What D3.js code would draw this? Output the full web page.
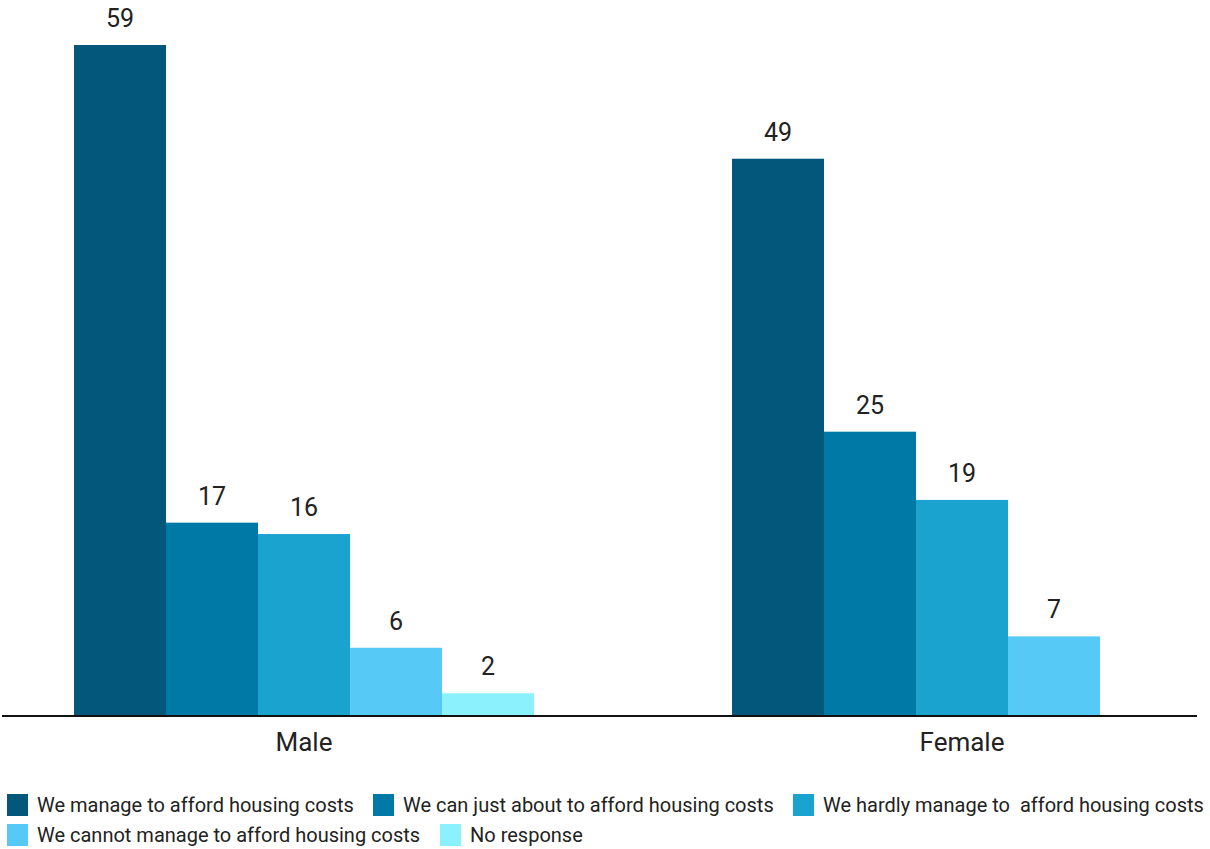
<!DOCTYPE html>
<html><head><meta charset="utf-8">
<script src="https://cdn.jsdelivr.net/npm/d3@7"></script>
<style>body{margin:0;background:#fff;}svg{display:block;font-family:Roboto,sans-serif;}</style>
</head><body>
<svg id="chart" width="1210" height="849"></svg>
<script>
const categories = ["Male", "Female"];
const seriesNames = [
  "We manage to afford housing costs",
  "We can just about to afford housing costs",
  "We hardly manage to  afford housing costs",
  "We cannot manage to afford housing costs",
  "No response"
];
const maleValues = [59, 17, 16, 6, 2];
const femaleValues = [49, 25, 19, 7, null];
const colors = ["#02577A", "#0079A7", "#1AA3CF", "#56C9F6", "#8BF2FD"];

const svg = d3.select("#chart");
const baseY = 716;
const x0 = d3.scaleBand().domain(categories).range([74, 1192]).paddingInner(198/658).paddingOuter(0);
const x1 = d3.scaleBand().domain(seriesNames).range([0, x0.bandwidth()]);
const y = d3.scaleLinear().domain([0, 59]).range([baseY, 45]);

const data = categories.map((c, i) => ({cat: c, vals: i === 0 ? maleValues : femaleValues}));

const g = svg.append("g");
data.forEach(d => {
  const gg = g.append("g").attr("transform", `translate(${x0(d.cat)},0)`);
  d.vals.forEach((v, j) => {
    if (v == null) return;
    gg.append("rect")
      .attr("x", x1(seriesNames[j])).attr("width", x1.bandwidth())
      .attr("y", y(v)).attr("height", baseY - y(v))
      .attr("fill", colors[j]);
    gg.append("text")
      .attr("x", x1(seriesNames[j]) + x1.bandwidth()/2)
      .attr("y", y(v) - 18)
      .attr("text-anchor", "middle")
      .attr("font-size", 25).attr("fill", "#222")
      .text(v);
  });
});

// x axis
const axis = d3.axisBottom(x0).tickSize(0).tickPadding(17);
const ax = svg.append("g").attr("transform", `translate(0,${baseY})`).call(axis);
ax.select(".domain").remove();
ax.selectAll("text").attr("font-size", 26).attr("fill", "#222").attr("font-family", "Roboto, sans-serif");
svg.append("line").attr("x1", 2).attr("x2", 1197).attr("y1", baseY).attr("y2", baseY)
  .attr("stroke", "#111").attr("stroke-width", 2);

// legend
const legendPos = [[7, 805], [373, 805], [793, 805], [7, 835], [440, 835]];
seriesNames.forEach((s, i) => {
  const [lx, ly] = legendPos[i];
  svg.append("rect").attr("x", lx).attr("y", ly - 11).attr("width", 21).attr("height", 22).attr("fill", colors[i]);
  svg.append("text").attr("x", lx + 30).attr("y", ly).attr("dy", "0.35em")
    .attr("font-size", 20).attr("fill", "#222").style("white-space", "pre").text(s);
});
</script>
</body></html>
